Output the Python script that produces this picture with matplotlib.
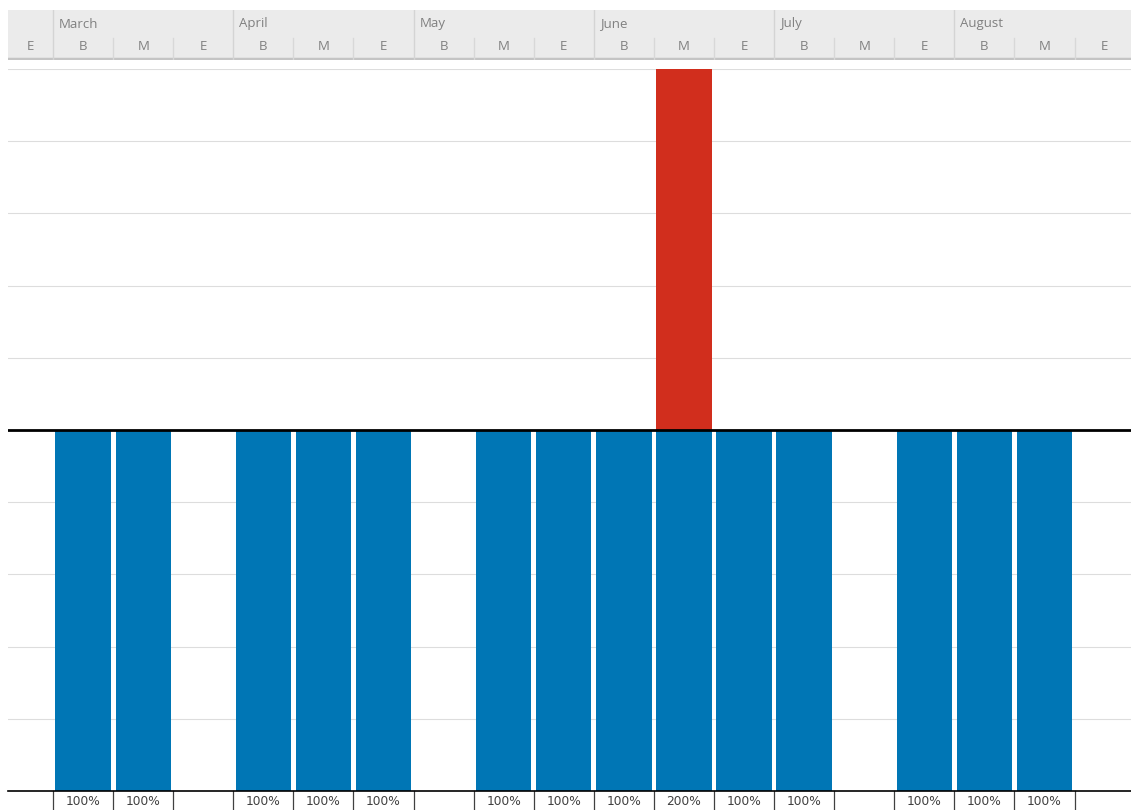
import matplotlib.pyplot as plt

# period columns: B = beginning, M = middle, E = end of month
periods = ['E', 'B', 'M', 'E', 'B', 'M', 'E', 'B', 'M', 'E',
           'B', 'M', 'E', 'B', 'M', 'E', 'B', 'M', 'E']
months = ['March', 'April', 'May', 'June', 'July', 'August']
month_start = [1, 4, 7, 10, 13, 16]

# load in percent, split into capacity part and overload part
base = [0, 100, 100, 0, 100, 100, 100, 0, 100, 100,
        100, 100, 100, 100, 0, 100, 100, 100, 0]
over = [0, 0, 0, 0, 0, 0, 0, 0, 0, 0,
        0, 100, 0, 0, 0, 0, 0, 0, 0]

BLUE = '#0076B5'
RED = '#D12E1D'
W, H = 1131, 810
xlim = (-0.25, 18.44)

fig = plt.figure(figsize=(W / 100, H / 100), dpi=100)

# main plot area
ax = fig.add_axes([8 / W, (H - 791) / H, (W - 8) / W, (791 - 69) / H])
x = list(range(len(periods)))
ax.bar(x, base, width=0.92, color=BLUE, zorder=2)
ax.bar(x, over, bottom=base, width=0.92, color=RED, zorder=2)
ax.set_xlim(*xlim)
ax.set_ylim(0, 200)
for yv in range(20, 201, 20):
    ax.axhline(yv, color='#DDDDDD', lw=0.8, zorder=1)
ax.axhline(100, color='black', lw=2, zorder=3)
ax.axhline(0, color='black', lw=1.2, zorder=3, clip_on=False)
ax.set_xticks([])
ax.set_yticks([])
for s in ax.spines.values():
    s.set_visible(False)

# value labels under the bars, in table cells
for i in x:
    total = base[i] + over[i]
    if total:
        ax.text(i, -2.9, f'{total}%', ha='center', va='center', fontsize=8.8,
                color='#404040', family='DejaVu Sans', clip_on=False)
for b in range(len(periods)):
    ax.plot([b + 0.5, b + 0.5], [0, -6], color='#404040', lw=0.9,
            clip_on=False)

# header band with months and periods
hx = fig.add_axes([8 / W, (H - 60) / H, (W - 8) / W, 50 / H])
hx.set_xlim(*xlim)
hx.set_ylim(0, 50)
hx.set_facecolor('#EBEBEB')
hx.axhline(1, color='#C4C4C4', lw=2.5)
hx.set_xticks([])
hx.set_yticks([])
for s in hx.spines.values():
    s.set_visible(False)

for i, p in enumerate(periods):
    cx = i if i > 0 else (xlim[0] + 0.5) / 2
    hx.text(cx, 14, p, ha='center', va='center', fontsize=9.5,
            color='#808080', family='Open Sans')
for b in range(len(periods) - 1):
    edge = b + 0.5
    if b + 1 in month_start:
        hx.plot([edge, edge], [0, 50], color='#D4D4D4', lw=1)
    else:
        hx.plot([edge, edge], [0, 22], color='#D8D8D8', lw=1)
for m, s in zip(months, month_start):
    hx.text(s - 0.4, 36, m, ha='left', va='center', fontsize=9.5,
            color='#808080', family='Open Sans')

fig.savefig('out.png', dpi=100)
